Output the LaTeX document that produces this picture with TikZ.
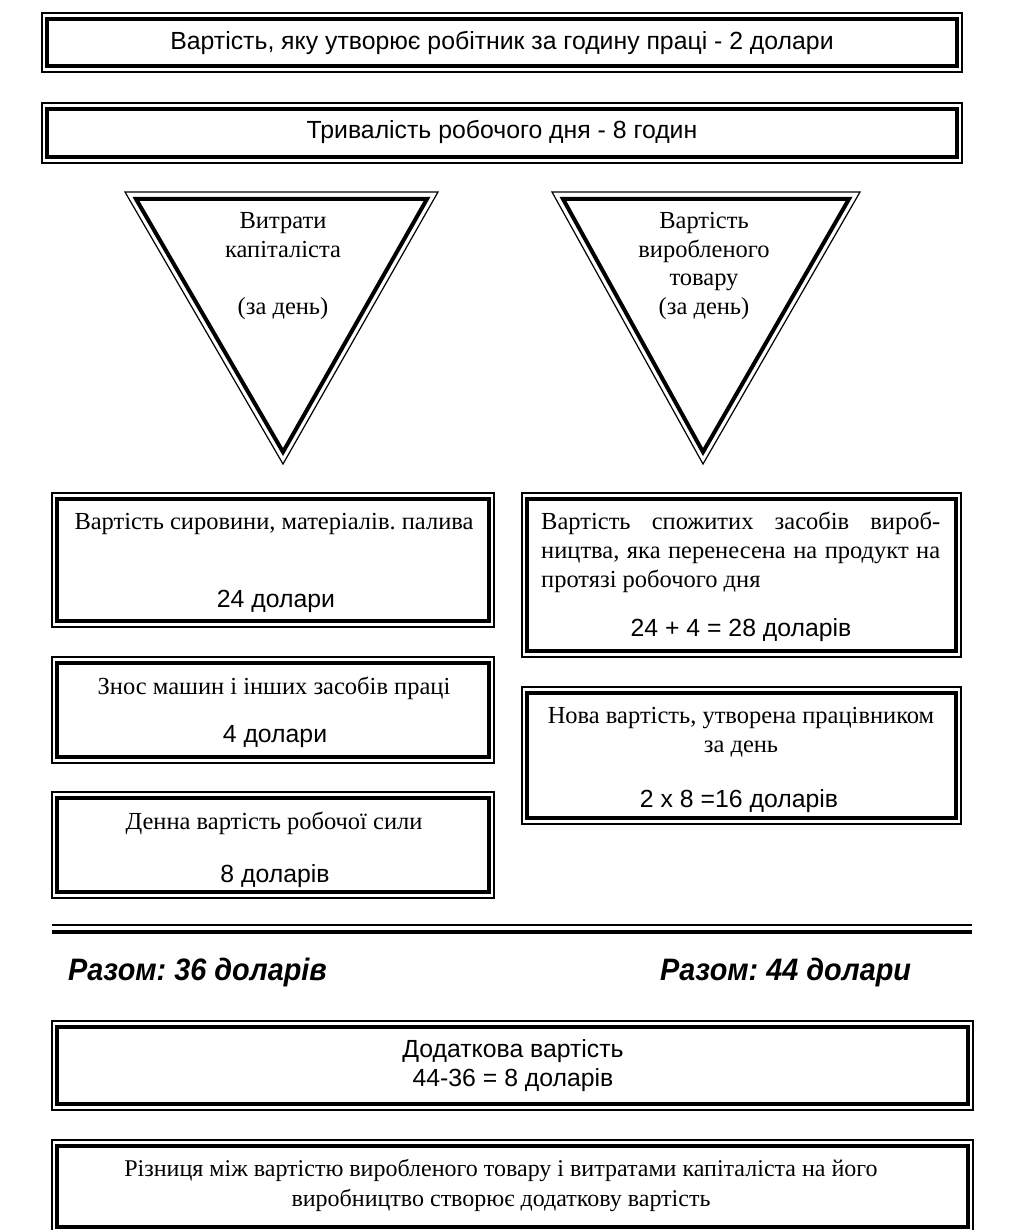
\documentclass[tikz,border=0pt]{standalone}
\usepackage{fontspec}
\setmainfont{Liberation Serif}
\setsansfont{Liberation Sans}
\newfontfamily\razomfont[FakeStretch=0.93]{Liberation Sans}
\frenchspacing
\tikzset{
  thinline/.style={line width=1.2pt},
  thickline/.style={line width=4pt, line join=miter},
  ser/.style={font=\fontsize{24.5}{29}\selectfont, inner sep=0pt, anchor=base},
  san/.style={font=\sffamily\fontsize{24.8}{29}\selectfont, inner sep=0pt, anchor=base},
  razom/.style={font=\razomfont\bfseries\itshape\fontsize{31}{34}\selectfont, inner sep=0pt, anchor=base west},
}
\newcommand{\dblbox}[5]{% name, x1,y1,x2,y2
  \draw[thinline] (#2,#3) rectangle (#4,#5);
  \draw[thickline] (#2+5,#3+6) rectangle (#4-5,#5-6);
  \coordinate (#1) at ({(#2+#4)/2},{(#3+#5)/2});
}
\begin{document}
\begin{tikzpicture}[x=1pt,y=-1pt]
\useasboundingbox (0,0) rectangle (1028,1230);
% top boxes
\dblbox{b1}{42}{13}{962}{72}
\node[san] (t1) at (502,50) {Вартість, яку утворює робітник за годину праці - 2 долари};
\dblbox{b2}{42}{103}{962}{163}
\node[san] (t2) at (502,139) {Тривалість робочого дня - 8 годин};
% triangles
\draw[thinline] (125,192) -- (438,192) -- (283,464) -- cycle;
\draw[thickline] (136,199) -- (427,199) -- (283,452) -- cycle;
\draw[thinline] (552,192) -- (860,192) -- (703,464) -- cycle;
\draw[thickline] (563,199) -- (849,199) -- (703,452) -- cycle;
\node[ser] (a1) at (283,229) {Витрати};
\node[ser] (a2) at (283,258) {капіталіста};
\node[ser] (a3) at (283,314) {(за день)};
\node[ser] (c1) at (704,229) {Вартість};
\node[ser] (c2) at (704,258) {виробленого};
\node[ser] (c3) at (704,286) {товару};
\node[ser] (c4) at (704,314) {(за день)};
% left boxes
\dblbox{l1}{52}{493}{494}{627}
\node[ser] (l1a) at (274,529) {Вартість сировини, матеріалів. палива};
\node[san] (l1b) at (276,607) {24 долари};
\dblbox{l2}{52}{657}{494}{763}
\node[ser] (l2a) at (274,694) {Знос машин і інших засобів праці};
\node[san] (l2b) at (275,742) {4 долари};
\dblbox{l3}{52}{792}{494}{898}
\node[ser] (l3a) at (274,829) {Денна вартість робочої сили};
\node[san] (l3b) at (275,882) {8 доларів};
% right boxes
\dblbox{r1}{522}{493}{961}{657}
\node[ser,anchor=base west] (r1a) at (541,529) {\makebox[399pt][s]{Вартість спожитих засобів вироб-}};
\node[ser,anchor=base west] (r1b) at (541,558) {\makebox[399pt][s]{ництва, яка перенесена на продукт на}};
\node[ser,anchor=base west] (r1c) at (541,587) {протязі робочого дня};
\node[san] (r1d) at (741,636) {24 + 4 = 28 доларів};
\dblbox{r2}{522}{687}{961}{824}
\node[ser] (r2a) at (741,723) {Нова вартість, утворена працівником};
\node[ser] (r2b) at (741,752) {за день};
\node[san] (r2c) at (739,807) {2 x 8 =16 доларів};
% separator
\draw[thinline] (52,925) -- (972,925);
\draw[line width=4pt] (52,932) -- (972,932);
\node[razom] (s1) at (68,980) {Разом: 36 доларів};
\node[razom] (s2) at (660,980) {Разом: 44 долари};
% bottom boxes
\dblbox{d}{52}{1021}{973}{1110}
\node[san] (d1) at (513,1057) {Додаткова вартість};
\node[san] (d2) at (513,1086) {44-36 = 8 доларів};
\dblbox{e}{52}{1140}{973}{1233}
\node[ser,font=\fontsize{24}{29}\selectfont] (e1) at (501,1176) {Різниця між вартістю виробленого товару і витратами капіталіста на його};
\node[ser,font=\fontsize{24}{29}\selectfont] (e2) at (501,1206) {виробництво створює додаткову вартість};
\end{tikzpicture}
\end{document}
